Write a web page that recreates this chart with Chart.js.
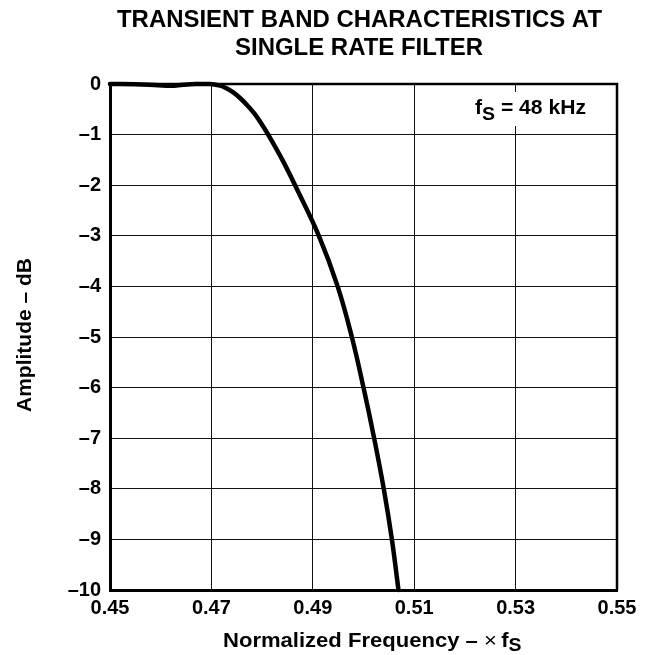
<!DOCTYPE html>
<html>
<head>
<meta charset="utf-8">
<script src="https://cdn.jsdelivr.net/npm/chart.js@4.4.1/dist/chart.umd.min.js"></script>
<style>
  html, body { margin: 0; padding: 0; background: #fff; }
  canvas { display: block; }
</style>
</head>
<body>
<canvas id="c" width="653" height="655"></canvas>
<script>
// ---- data ----
const freq = [0.450, 0.455, 0.4595, 0.4620, 0.4645, 0.4670, 0.4697, 0.4717, 0.4726, 0.4743, 0.4758, 0.4772, 0.4785, 0.4796, 0.4812, 0.4840, 0.4865, 0.4912, 0.4949, 0.4977, 0.5000, 0.5021, 0.5040, 0.5056, 0.5069];
const amplitude = [0, -0.005, -0.025, -0.035, -0.015, -0.002, 0, -0.032, -0.067, -0.166, -0.291, -0.433, -0.585, -0.743, -1.0, -1.5, -2.0, -3.0, -4.0, -5.0, -6.0, -7.0, -8.0, -9.0, -10.0];

const xTicks = [0.45, 0.47, 0.49, 0.51, 0.53, 0.55];
const xTickLabels = ['0.45', '0.47', '0.49', '0.51', '0.53', '0.55'];
const yTicks = [0, -1, -2, -3, -4, -5, -6, -7, -8, -9, -10];
const yTickLabels = ['0', '\u20131', '\u20132', '\u20133', '\u20134', '\u20135', '\u20136', '\u20137', '\u20138', '\u20139', '\u201310'];

const titleLines = ['TRANSIENT BAND CHARACTERISTICS AT', 'SINGLE RATE FILTER'];
const FONT = "'Liberation Sans', Arial, Helvetica, sans-serif";

function drawRuns(ctx, runs, x, y, targetWidth, align) {
  ctx.save();
  let w = 0;
  runs.forEach(r => { ctx.font = r.font; r.w = ctx.measureText(r.text).width; w += r.w; });
  const s = targetWidth / w;
  ctx.translate(x, y);
  ctx.scale(s, 1);
  let cx = align === 'center' ? -w / 2 : 0;
  ctx.fillStyle = '#000';
  ctx.textBaseline = 'alphabetic';
  ctx.textAlign = 'left';
  runs.forEach(r => { ctx.font = r.font; ctx.fillText(r.text, cx, r.dy || 0); cx += r.w; });
  ctx.restore();
}

const decor = {
  id: 'decor',
  afterDraw(chart) {
    const ctx = chart.ctx;
    const a = chart.chartArea;
    // top and right frame
    ctx.save();
    ctx.strokeStyle = '#000';
    ctx.lineWidth = 2.5;
    ctx.beginPath();
    ctx.moveTo(a.left, a.top);
    ctx.lineTo(a.right, a.top);
    ctx.lineTo(a.right, a.bottom);
    ctx.stroke();
    ctx.restore();

    // annotation box
    ctx.save();
    ctx.fillStyle = '#fff';
    ctx.fillRect(466, 92, 128, 34);
    ctx.restore();
    drawRuns(ctx, [
      { text: 'f', font: 'bold 20px ' + FONT },
      { text: 'S', font: 'bold 18.5px ' + FONT, dy: 5.7 },
      { text: ' = 48 kHz', font: 'bold 20px ' + FONT }
    ], 475, 114, 111, 'left');

    // title
    drawRuns(ctx, [{ text: titleLines[0], font: 'bold 23px ' + FONT }], 359.5, 26.5, 485, 'center');
    drawRuns(ctx, [{ text: titleLines[1], font: 'bold 23px ' + FONT }], 359, 54.5, 248, 'center');

    // x axis title
    drawRuns(ctx, [
      { text: 'Normalized Frequency \u2013 ', font: 'bold 21px ' + FONT },
      { text: '\u00d7', font: '21px ' + FONT },
      { text: '\u2009f', font: 'bold 21px ' + FONT },
      { text: 'S', font: 'bold 18.5px ' + FONT, dy: 3.5 }
    ], 223, 647, 298.5, 'left');

    // y axis title
    ctx.save();
    ctx.translate(30.5, 335);
    ctx.rotate(-Math.PI / 2);
    drawRuns(ctx, [{ text: 'Amplitude \u2013 dB', font: 'bold 21px ' + FONT }], 0, 0, 154, 'center');
    ctx.restore();
  }
};

new Chart(document.getElementById('c'), {
  type: 'line',
  data: {
    datasets: [{
      data: freq.map((f, i) => ({ x: f, y: amplitude[i] })),
      borderColor: '#000',
      borderWidth: 4.5,
      pointRadius: 0,
      tension: 0.4,
      cubicInterpolationMode: 'default',
      borderCapStyle: 'round',
      borderJoinStyle: 'round',
      fill: false,
      clip: false
    }]
  },
  options: {
    responsive: false,
    animation: false,
    devicePixelRatio: 1,
    layout: { padding: { top: 84, right: 36, bottom: 0, left: 0 } },
    plugins: { legend: { display: false }, title: { display: false }, tooltip: { enabled: false } },
    scales: {
      x: {
        type: 'linear',
        min: 0.45,
        max: 0.55,
        afterBuildTicks: s => { s.ticks = xTicks.map(v => ({ value: v })); },
        afterFit: s => { s.height = 65; },
        ticks: {
          autoSkip: false,
          maxRotation: 0,
          padding: 6,
          color: '#000',
          font: { family: FONT, size: 20, weight: 'bold' },
          callback: v => xTickLabels[xTicks.indexOf(v)]
        },
        grid: { color: '#111', lineWidth: 1, drawTicks: false },
        border: { display: true, color: '#000', width: 3 }
      },
      y: {
        type: 'linear',
        min: -10,
        max: 0,
        afterBuildTicks: s => { s.ticks = yTicks.map(v => ({ value: v })); },
        afterFit: s => { s.width = 110; },
        ticks: {
          autoSkip: false,
          padding: 9,
          color: '#000',
          font: { family: FONT, size: 20, weight: 'bold' },
          callback: v => yTickLabels[yTicks.indexOf(v)]
        },
        grid: { color: '#111', lineWidth: 1, drawTicks: false },
        border: { display: true, color: '#000', width: 3 }
      }
    }
  },
  plugins: [decor]
});
</script>
</body>
</html>
